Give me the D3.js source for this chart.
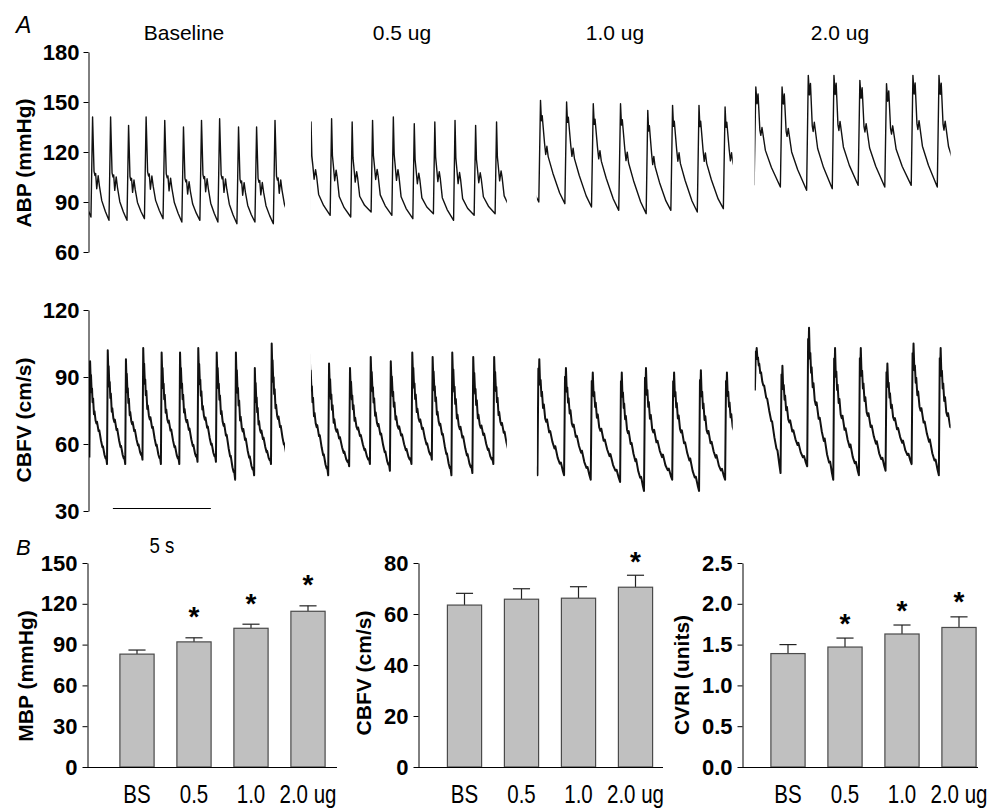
<!DOCTYPE html>
<html>
<head>
<meta charset="utf-8">
<script src="https://cdn.jsdelivr.net/npm/d3@7"></script>
<style>
  body { margin: 0; background: #fff; }
  svg { display: block; font-family: "Liberation Sans", Arial, Helvetica, sans-serif; }
</style>
</head>
<body>
<svg width="991" height="809"></svg>
<script>
// ---- panel A: beat-by-beat values ----
// onset times (s, from window start), systolic peaks, end-diastolic troughs
const segmentNames = ['Baseline', '0.5 ug', '1.0 ug', '2.0 ug']
const segmentStart = [0, 11.33, 22.86, 33.98]

const abpBsOnset = [-0.82, 0.10, 1.02, 1.94, 2.83, 3.78, 4.74, 5.66, 6.58, 7.55, 8.47, 9.41, 10.35]
const abpBsPeak = [139, 141, 141, 136, 141, 139, 135, 139, 140, 135, 135, 139]
const abpBsTrough = [84, 81, 79, 79, 80, 80, 78, 79, 78, 77, 78, 77, 78]

const abp05Onset = [-0.07, 0.98, 2.03, 3.07, 4.13, 5.20, 6.25, 7.28, 8.33, 9.40, 10.45]
const abp05Peak = [138, 140, 138, 139, 141, 137, 138, 139, 136, 138]
const abp05Trough = [85, 82, 81, 84, 82, 80, 83, 79, 82, 83, 82]

const abp10Onset = [-1.22, 0.10, 1.43, 2.79, 4.18, 5.58, 6.84, 8.19, 9.52, 10.88]
const abp10Peak = [150, 151, 150, 149, 149, 145, 148, 148, 147]
const abp10Trough = [92, 90, 89, 87, 85, 83, 85, 84, 86, 86]

const abp20Onset = [-0.03, 1.31, 2.65, 3.96, 5.28, 6.64, 7.99, 9.32, 10.66]
const abp20Peak = [159, 159, 166, 166, 163, 161, 166, 166]
const abp20Trough = [100, 99, 97, 98, 100, 99, 100, 99, 99]

const cbfvBsOnset = [0.02, 0.92, 1.85, 2.73, 3.67, 4.61, 5.54, 6.48, 7.46, 8.43, 9.29, 10.18]
const cbfvBsPeak = [97, 102, 98, 103, 101, 101, 103, 101, 101, 94, 105]
const cbfvBsTrough = [54, 51, 51, 53, 51, 51, 52, 52, 44, 46, 51, 52]

const cbfv05Onset = [-0.10, 0.88, 1.95, 3.01, 4.03, 5.13, 6.17, 7.17, 8.24, 9.31, 10.33]
const cbfv05Peak = [100, 96, 94, 99, 97, 101, 99, 101, 99, 99]
const cbfv05Trough = [50, 46, 50, 51, 48, 51, 53, 46, 47, 51, 50]

const cbfv10Onset = [-1.33, 0.03, 1.39, 2.75, 4.25, 5.47, 6.91, 8.28, 9.61, 10.94]
const cbfv10Peak = [95, 98, 94, 92, 92, 94, 92, 93, 92]
const cbfv10Trough = [52, 46, 46, 44, 43, 39, 44, 39, 44, 45]

const cbfv20Onset = [0.01, 1.32, 2.68, 4.01, 5.32, 6.68, 8.01, 9.40, 10.71]
const cbfv20Peak = [103, 95, 112, 103, 103, 96, 105, 103]
const cbfv20Trough = [84, 47, 50, 44, 46, 48, 51, 46, 48]

// beat shapes traced from one beat of each window: [fraction of beat, fraction trough->peak]
const abpShapeBs = [[0, 0], [0.09, 1], [0.17, 0.46], [0.22, 0.42], [0.26, 0.44], [0.32, 0.29], [0.40, 0.42], [0.47, 0.32], [0.60, 0.18], [0.80, 0.08], [1, 0]]
const abpShape05 = [[0, 0], [0.07, 1], [0.11, 0.62], [0.15, 0.53], [0.22, 0.36], [0.29, 0.47], [0.34, 0.40], [0.44, 0.20], [0.68, 0.09], [1, 0]]
const abpShape10 = [[0, 0], [0.065, 1], [0.10, 0.80], [0.13, 0.85], [0.22, 0.58], [0.265, 0.47], [0.31, 0.55], [0.36, 0.45], [0.54, 0.29], [0.80, 0.10], [1, 0]]
const abpShape20 = [[0, 0], [0.065, 1], [0.11, 0.83], [0.15, 0.93], [0.22, 0.56], [0.255, 0.51], [0.30, 0.59], [0.43, 0.36], [0.66, 0.19], [1, 0]]
const cbfvShapeEarly = [[0, 0], [0.04, 1], [0.07, 0.82], [0.09, 0.86], [0.13, 0.68], [0.15, 0.72], [0.18, 0.58], [0.21, 0.62], [0.26, 0.46], [0.29, 0.49], [0.35, 0.40], [0.40, 0.37], [0.43, 0.39], [0.52, 0.30], [0.56, 0.31], [0.66, 0.21], [0.74, 0.15], [0.77, 0.16], [0.86, 0.08], [0.92, 0.05], [0.95, 0.06], [1, 0]]
const cbfvShapeLate = [[0, 0], [0.035, 0.92], [0.05, 0.80], [0.07, 1], [0.10, 0.78], [0.12, 0.82], [0.15, 0.68], [0.17, 0.72], [0.21, 0.58], [0.24, 0.61], [0.29, 0.49], [0.33, 0.46], [0.36, 0.48], [0.44, 0.37], [0.48, 0.38], [0.56, 0.29], [0.64, 0.23], [0.67, 0.25], [0.76, 0.15], [0.84, 0.10], [0.88, 0.11], [0.95, 0.04], [1, 0]]

const abpTicks = [60, 90, 120, 150, 180]
const cbfvTicks = [30, 60, 90, 120]

// ---- panel B: group means and SE ----
const groups = ['BS', '0.5', '1.0', '2.0 ug']
const mbpMean = [83, 92, 102, 114.5]
const mbpErr = [3, 3, 3, 4]
const mbpSig = [false, true, true, true]
const flowMean = [63.5, 65.8, 66.2, 70.5]
const flowErr = [4.6, 4.1, 4.5, 4.7]
const flowSig = [false, false, false, true]
const cvriMean = [1.39, 1.47, 1.63, 1.71]
const cvriErr = [0.11, 0.11, 0.11, 0.13]
const cvriSig = [false, true, true, true]
const mbpTicks = [0, 30, 60, 90, 120, 150]
const flowTicks = [0, 20, 40, 60, 80]
const cvriTicks = [0, 0.5, 1.0, 1.5, 2.0, 2.5]

const svg = d3.select('svg')
const FONT = '"Liberation Sans", Arial, Helvetica, sans-serif'

const x = d3.scaleLinear().domain([0, 44]).range([89, 951])
const segLen = 10
const yAbp = d3.scaleLinear().domain([60, 180]).range([252, 52])
const yFlow = d3.scaleLinear().domain([30, 120]).range([511, 310])

function beatPoints (onset, peak, trough, shape, t0) {
  const pts = []
  peak.forEach((pk, i) => {
    const a = onset[i]
    const b = onset[i + 1]
    const tr = trough[i]
    const trN = trough[i + 1]
    shape.slice(0, -1).forEach(([ph, f]) => {
      const base = tr + (trN - tr) * ph
      pts.push([t0 + a + (b - a) * ph, base + f * (pk - base)])
    })
  })
  pts.push([t0 + onset[onset.length - 1], trough[trough.length - 1]])
  return pts
}

function styleAxis (g, size) {
  g.attr('font-family', FONT).attr('font-size', size).attr('font-weight', 'bold')
  g.selectAll('text').attr('fill', '#000')
  g.selectAll('line, path').attr('stroke', '#000')
}

function yTitle (text, cx, cy, size) {
  svg.append('text')
    .attr('transform', `translate(${cx},${cy}) rotate(-90)`)
    .attr('text-anchor', 'middle')
    .attr('font-size', size).attr('font-weight', 'bold')
    .text(text)
}

// clip windows
const defs = svg.append('defs')
segmentStart.forEach((s, i) => {
  defs.append('clipPath').attr('id', 'seg' + i)
    .append('rect')
    .attr('x', x(s)).attr('y', 0)
    .attr('width', x(s + segLen) - x(s)).attr('height', 530)
})

const abpTraces = [
  { onset: abpBsOnset, peak: abpBsPeak, trough: abpBsTrough, shape: abpShapeBs },
  { onset: abp05Onset, peak: abp05Peak, trough: abp05Trough, shape: abpShape05 },
  { onset: abp10Onset, peak: abp10Peak, trough: abp10Trough, shape: abpShape10 },
  { onset: abp20Onset, peak: abp20Peak, trough: abp20Trough, shape: abpShape20 }
]
const cbfvTraces = [
  { onset: cbfvBsOnset, peak: cbfvBsPeak, trough: cbfvBsTrough, shape: cbfvShapeEarly },
  { onset: cbfv05Onset, peak: cbfv05Peak, trough: cbfv05Trough, shape: cbfvShapeEarly },
  { onset: cbfv10Onset, peak: cbfv10Peak, trough: cbfv10Trough, shape: cbfvShapeLate },
  { onset: cbfv20Onset, peak: cbfv20Peak, trough: cbfv20Trough, shape: cbfvShapeLate }
]

const lineAbp = d3.line().x(d => x(d[0])).y(d => yAbp(d[1]))
const lineFlow = d3.line().x(d => x(d[0])).y(d => yFlow(d[1]))

abpTraces.forEach((tr, i) => {
  svg.append('path')
    .attr('clip-path', `url(#seg${i})`)
    .attr('d', lineAbp(beatPoints(tr.onset, tr.peak, tr.trough, tr.shape, segmentStart[i])))
    .attr('fill', 'none').attr('stroke', '#111').attr('stroke-width', 1.4)
    .attr('stroke-linejoin', 'round')
})
cbfvTraces.forEach((tr, i) => {
  svg.append('path')
    .attr('clip-path', `url(#seg${i})`)
    .attr('d', lineFlow(beatPoints(tr.onset, tr.peak, tr.trough, tr.shape, segmentStart[i])))
    .attr('fill', 'none').attr('stroke', '#111').attr('stroke-width', 2)
    .attr('stroke-linejoin', 'round')
})

// window titles
const titleX = [184, 402, 615, 840]
segmentNames.forEach((n, i) => {
  svg.append('text').attr('x', titleX[i]).attr('y', 40)
    .attr('text-anchor', 'middle').attr('font-size', 21).text(n)
})

// panel A axes
svg.append('g').attr('transform', 'translate(88.5,0)')
  .call(d3.axisLeft(yAbp).tickValues(abpTicks).tickSize(5).tickSizeOuter(0).tickPadding(4))
  .call(g => styleAxis(g, 22))
svg.append('g').attr('transform', 'translate(88.5,0)')
  .call(d3.axisLeft(yFlow).tickValues(cbfvTicks).tickSize(5).tickSizeOuter(0).tickPadding(4))
  .call(g => styleAxis(g, 22))
yTitle('ABP (mmHg)', 31, 163, 21)
yTitle('CBFV (cm/s)', 31, 420, 21)

// 5 s scale bar
svg.append('line')
  .attr('x1', x(1.22)).attr('x2', x(1.22 + 5))
  .attr('y1', 508.5).attr('y2', 508.5)
  .attr('stroke', '#000').attr('stroke-width', 1)
svg.append('text')
  .attr('transform', `translate(${x(1.22 + 2.5)},553) scale(0.85,1)`)
  .attr('text-anchor', 'middle').attr('font-size', 22).text('5 s')

// panel letters
svg.append('text').attr('x', 16).attr('y', 33).attr('font-size', 23).attr('font-style', 'italic').text('A')
svg.append('text').attr('x', 16).attr('y', 555).attr('font-size', 22).attr('font-style', 'italic').text('B')

// ---- panel B bar charts ----
const charts = [
  { axisX: 87, right: 337, off: 21.5, domain: [0, 150], ticks: mbpTicks, fmt: d3.format('d'),
    mean: mbpMean, err: mbpErr, sig: mbpSig, title: 'MBP (mmHg)', titleX: 33, titleY: 676, starGap: 27 },
  { axisX: 418, right: 663, off: 18, domain: [0, 80], ticks: flowTicks, fmt: d3.format('d'),
    mean: flowMean, err: flowErr, sig: flowSig, title: 'CBFV (cm/s)', titleX: 371, titleY: 673, starGap: 20 },
  { axisX: 742, right: 978, off: 17.5, domain: [0, 2.5], ticks: cvriTicks, fmt: d3.format('.1f'),
    mean: cvriMean, err: cvriErr, sig: cvriSig, title: 'CVRI (units)', titleX: 689, titleY: 675, starGap: 21 }
]

charts.forEach(c => {
  const y = d3.scaleLinear().domain(c.domain).range([767, 563])
  const xb = d3.scaleBand().domain(groups)
    .range([c.axisX + c.off, c.axisX + c.off + 4 * 57])
    .paddingInner(0.4).paddingOuter(0.2)
  const g = svg.append('g')

  groups.forEach((grp, i) => {
    const bx = xb(grp)
    const bw = xb.bandwidth()
    const cx = bx + bw / 2
    const top = y(c.mean[i])
    const et = y(c.mean[i] + c.err[i])
    g.append('line').attr('x1', cx).attr('x2', cx).attr('y1', top).attr('y2', et)
      .attr('stroke', '#222').attr('stroke-width', 1.2)
    g.append('line').attr('x1', cx - bw / 4).attr('x2', cx + bw / 4).attr('y1', et).attr('y2', et)
      .attr('stroke', '#222').attr('stroke-width', 1.2)
    g.append('rect').attr('x', bx).attr('y', top)
      .attr('width', bw).attr('height', y(0) - top)
      .attr('fill', '#c0c0c0').attr('stroke', '#4a4a4a').attr('stroke-width', 1.2)
    if (c.sig[i]) {
      g.append('text').attr('x', cx).attr('y', et - c.starGap + 15.5)
        .attr('text-anchor', 'middle').attr('font-size', 28).attr('font-weight', 'bold').text('*')
    }
    g.append('text')
      .attr('transform', `translate(${cx},803) scale(0.82,1)`)
      .attr('text-anchor', 'middle').attr('font-size', 25).text(grp)
  })

  svg.append('line').attr('x1', c.axisX).attr('x2', c.right)
    .attr('y1', 767.5).attr('y2', 767.5).attr('stroke', '#000')
  svg.append('g').attr('transform', `translate(${c.axisX + 0.5},0)`)
    .call(d3.axisLeft(y).tickValues(c.ticks).tickFormat(c.fmt).tickSize(5).tickSizeOuter(0).tickPadding(5))
    .call(a => styleAxis(a, 22))
  yTitle(c.title, c.titleX, c.titleY, 21)
})
</script>
</body>
</html>
